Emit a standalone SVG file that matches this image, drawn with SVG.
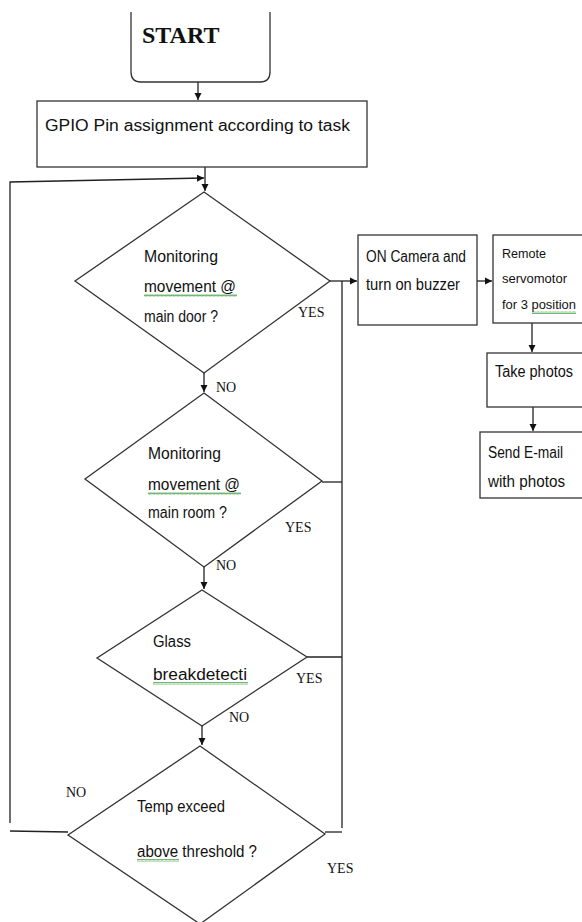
<svg xmlns="http://www.w3.org/2000/svg" width="582" height="922" viewBox="0 0 582 922">
<style>
.sh{fill:#fff;stroke:#333;stroke-width:1.3}
.ln{fill:none;stroke:#222;stroke-width:1.3}
.t{font-family:"Liberation Sans",Arial,sans-serif;font-size:16px;fill:#111}
.ts{font-family:"Liberation Sans",Arial,sans-serif;font-size:13px;fill:#111}
.lb{font-family:"Liberation Serif","Times New Roman",serif;font-size:14px;fill:#111}
.sq{fill:url(#sq)}
</style>
<defs>
<marker id="ar" markerWidth="8" markerHeight="8" refX="7" refY="4" orient="auto" markerUnits="userSpaceOnUse"><path d="M0,0.5 L7,4 L0,7.5 Z" fill="#111"/></marker>
<pattern id="sq" width="4" height="3" patternUnits="userSpaceOnUse"><path d="M0,2.5 L1,0.5 L2,2.5 L3,0.5 L4,2.5" fill="none" stroke="#3a9a3a" stroke-width="0.7"/></pattern>
</defs>
<g id="connectors">
<line class="ln" x1="198" y1="82" x2="198" y2="100" marker-end="url(#ar)"/>
<line class="ln" x1="205" y1="167" x2="205" y2="191" marker-end="url(#ar)"/>
<polyline class="ln" points="10,823 10,182 204,178" marker-end="url(#ar)"/>
<polyline class="ln" points="10,831 68,832"/>
<line class="ln" x1="330" y1="281" x2="357" y2="281" marker-end="url(#ar)"/>
<line class="ln" x1="342" y1="281" x2="342" y2="828"/>
<line class="ln" x1="322" y1="482" x2="342" y2="482"/>
<line class="ln" x1="307" y1="657" x2="342" y2="657"/>
<line class="ln" x1="325" y1="832" x2="342" y2="832"/>
<line class="ln" x1="204" y1="373" x2="204" y2="392" marker-end="url(#ar)"/>
<line class="ln" x1="204" y1="567" x2="204" y2="589" marker-end="url(#ar)"/>
<line class="ln" x1="202" y1="726" x2="202" y2="745" marker-end="url(#ar)"/>
<line class="ln" x1="477" y1="281" x2="492" y2="281" marker-end="url(#ar)"/>
<line class="ln" x1="532" y1="323" x2="532" y2="352" marker-end="url(#ar)"/>
<line class="ln" x1="533" y1="407" x2="533" y2="431" marker-end="url(#ar)"/>
</g>
<g id="start">
<path class="sh" d="M131,12 L131,72 Q131,82 141,82 L260,82 Q270,82 270,72 L270,12" />
<text x="142" y="43" font-family="Liberation Serif,'Times New Roman',serif" font-size="24" font-weight="bold" fill="#111">START</text>
</g>
<g id="gpio">
<rect class="sh" x="37" y="101" width="330" height="66"/>
<text class="t" x="45" y="131" font-size="18" textLength="305" lengthAdjust="spacingAndGlyphs">GPIO Pin assignment according to task</text>
</g>
<g id="d1">
<polygon class="sh" points="204,192 330,281 204,373 75,281"/>
<text class="t" x="144" y="262" textLength="74" lengthAdjust="spacingAndGlyphs">Monitoring</text>
<text class="t" x="144" y="292" textLength="92" lengthAdjust="spacingAndGlyphs">movement  @</text>
<rect class="sq" x="144" y="294" width="93" height="3"/>
<text class="t" x="144" y="322" textLength="74" lengthAdjust="spacingAndGlyphs">main door ?</text>
<text class="lb" x="298" y="317">YES</text>
<text class="lb" x="216" y="392">NO</text>
</g>
<g id="d2">
<polygon class="sh" points="204,393 322,481 204,567 85,479"/>
<text class="t" x="148" y="459" textLength="73" lengthAdjust="spacingAndGlyphs">Monitoring</text>
<text class="t" x="148" y="490" textLength="92" lengthAdjust="spacingAndGlyphs">movement  @</text>
<rect class="sq" x="148" y="492" width="93" height="3"/>
<text class="t" x="148" y="518" textLength="79" lengthAdjust="spacingAndGlyphs">main room ?</text>
<text class="lb" x="285" y="532">YES</text>
<text class="lb" x="216" y="570">NO</text>
</g>
<g id="d3">
<polygon class="sh" points="202,590 307,657 202,726 97,658"/>
<text class="t" x="153" y="647" textLength="38" lengthAdjust="spacingAndGlyphs">Glass</text>
<text class="t" x="153" y="680" textLength="94" lengthAdjust="spacingAndGlyphs">breakdetecti</text>
<rect class="sq" x="153" y="682" width="95" height="3"/>
<text class="lb" x="296" y="683">YES</text>
<text class="lb" x="229" y="722">NO</text>
</g>
<g id="d4">
<polygon class="sh" points="200,746 325,834 200,924 68,835"/>
<text class="t" x="137" y="812" textLength="88" lengthAdjust="spacingAndGlyphs">Temp exceed</text>
<text class="t" x="137" y="857" textLength="120" lengthAdjust="spacingAndGlyphs">above threshold  ?</text>
<rect class="sq" x="137" y="859" width="42" height="3"/>
<text class="lb" x="66" y="797">NO</text>
<text class="lb" x="327" y="873">YES</text>
</g>
<g id="camera">
<rect class="sh" x="358" y="235" width="119" height="90"/>
<text class="t" x="366" y="262" textLength="100" lengthAdjust="spacingAndGlyphs">ON Camera and</text>
<text class="t" x="366" y="290" textLength="94" lengthAdjust="spacingAndGlyphs">turn on buzzer</text>
</g>
<g id="servo">
<rect class="sh" x="493" y="235" width="92" height="88"/>
<text class="ts" x="502" y="258" textLength="44" lengthAdjust="spacingAndGlyphs">Remote</text>
<text class="ts" x="502" y="283" textLength="65" lengthAdjust="spacingAndGlyphs">servomotor</text>
<text class="ts" x="502" y="309" textLength="74" lengthAdjust="spacingAndGlyphs">for 3 position</text>
<rect class="sq" x="532" y="311" width="44" height="3"/>
</g>
<g id="photos">
<rect class="sh" x="487" y="353" width="98" height="54"/>
<text class="t" x="495" y="377" textLength="78" lengthAdjust="spacingAndGlyphs">Take photos</text>
</g>
<g id="email">
<rect class="sh" x="480" y="432" width="105" height="66"/>
<text class="t" x="488" y="458" textLength="75" lengthAdjust="spacingAndGlyphs">Send E-mail</text>
<text class="t" x="488" y="487" textLength="77" lengthAdjust="spacingAndGlyphs">with photos</text>
</g>
</svg>
